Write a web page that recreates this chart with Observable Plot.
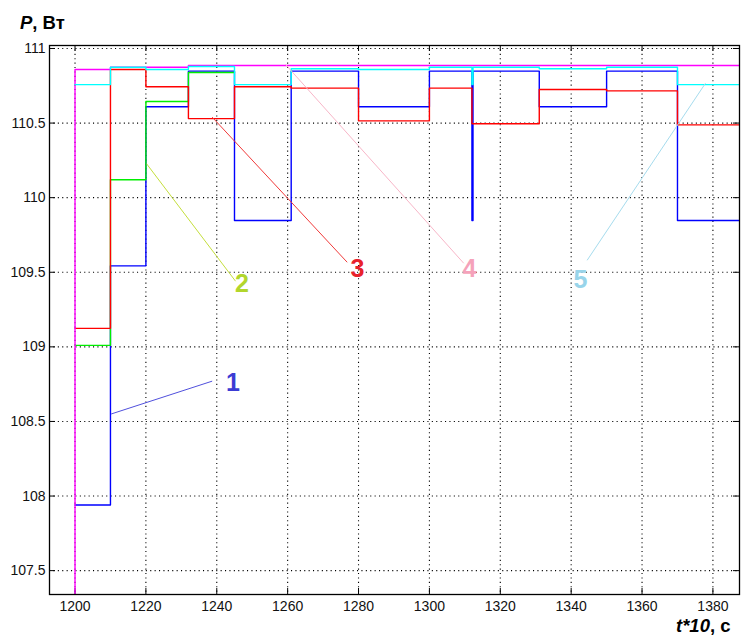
<!DOCTYPE html>
<html><head><meta charset="utf-8">
<script src="https://cdn.jsdelivr.net/npm/d3@7"></script>
<script src="https://cdn.jsdelivr.net/npm/@observablehq/plot@0.6"></script>
<style>body{margin:0;background:#fff}</style>
</head><body><div id="chart"></div>
<script>
// switching times (t*10, s)
const t = [1200, 1200, 1210, 1220, 1232, 1245, 1261, 1280, 1300, 1312, 1312.3, 1331, 1350, 1370, 1387.5];
// power, W (step values starting at each time)
const p1 = [107.94, 107.94, 109.543, 110.609, 110.848, 109.847, 110.848, 110.609, 110.848, 109.847, 110.848, 110.609, 110.848, 109.847, 109.847];
const p2 = [109.01, 109.01, 110.12, 110.645, 110.839, 110.839, null, null, null, null, null, null, null, null, null];
const p3 = [109.124, 109.124, 110.859, 110.743, 110.53, 110.743, 110.734, 110.515, 110.734, 110.495, 110.495, 110.725, 110.716, 110.488, 110.488];
const p4 = [107.2, 110.859, 110.874, 110.874, 110.886, 110.886, 110.886, 110.886, 110.886, 110.886, 110.886, 110.886, 110.886, 110.886, 110.886];
const p5 = [110.758, 110.758, 110.874, 110.859, 110.879, 110.758, 110.864, 110.859, 110.874, 110.758, 110.874, 110.864, 110.874, 110.758, 110.758];

const seriesNames = ["1", "2", "3", "4", "5"];
const seriesValues = [p1, p2, p3, p4, p5];
const seriesColors = ["#0000ff", "#00ee00", "#ff0000", "#ff00ff", "#00ffff"];
const drawOrder = [0, 1, 2, 3, 4];

// number labels with leader lines
const labelText = ["1", "2", "3", "4", "5"];
const labelColors = ["#3c3cd4", "#b2d62c", "#e8222c", "#f5a2ba", "#98d4ea"];
const leaderColors = ["#5050dd", "#c4de3c", "#f03a3a", "#f8b6c8", "#a6dcee"];
const labelX = [1244.6, 1247.1, 1279.7, 1311.3, 1342.6];
const labelY = [108.76, 109.42, 109.525, 109.525, 109.45];
const leadX1 = [1210.2, 1220.2, 1238.7, 1259.4, 1344.5];
const leadY1 = [108.55, 110.227, 110.54, 110.893, 109.58];
const leadX2 = [1238.7, 1245.3, 1276.8, 1309.7, 1377.9];
const leadY2 = [108.77, 109.44, 109.567, 109.56, 110.767];

const xTicks = [1200, 1220, 1240, 1260, 1280, 1300, 1320, 1340, 1360, 1380];
const yTicks = [107.5, 108, 108.5, 109, 109.5, 110, 110.5, 111];
const xDomain = [1192.8, 1387.5];
const yDomain = [107.34, 111.02];

const W = 747, H = 636, mL = 49, mR = 8, mT = 45, mB = 42;
const pw = W - mL - mR, ph = H - mT - mB;

const rows = [];
drawOrder.forEach(s => {
  t.forEach((tt, i) => rows.push({series: seriesNames[s], order: s, t: tt, p: seriesValues[s][i]}));
});
const labels = labelText.map((s, i) => ({s, x: labelX[i], y: labelY[i], x1: leadX1[i], y1: leadY1[i], x2: leadX2[i], y2: leadY2[i], c: labelColors[i], lc: leaderColors[i]}));

const lineMarks = drawOrder.map(s =>
  Plot.line(rows.filter(r => r.order === s), {
    x: "t", y: "p", curve: "step-after", stroke: seriesColors[s], strokeWidth: 1.4, clip: true
  })
);

const chart = Plot.plot({
  width: W, height: H,
  marginLeft: mL, marginRight: mR, marginTop: mT, marginBottom: mB,
  style: {fontFamily: "'Liberation Sans', Arial, sans-serif", fontSize: "14px", color: "#000", background: "#fff"},
  x: {domain: xDomain},
  y: {domain: yDomain},
  marks: [
    Plot.gridX(xTicks, {stroke: "#000", strokeOpacity: 1, strokeWidth: 1.1, strokeDasharray: "1.1,3.3"}),
    Plot.gridY(yTicks, {stroke: "#000", strokeOpacity: 1, strokeWidth: 1.1, strokeDasharray: "1.1,3.3"}),
    Plot.tickX(xTicks, {x: d => d, insetTop: ph - 6, stroke: "#000"}),
    Plot.tickX(xTicks, {x: d => d, insetBottom: ph - 6, stroke: "#000"}),
    Plot.tickY(yTicks, {y: d => d, insetRight: pw - 6, stroke: "#000"}),
    Plot.tickY(yTicks, {y: d => d, insetLeft: pw - 6, stroke: "#000"}),
    Plot.axisX(xTicks, {tickSize: 0, tickPadding: 7, label: null, tickFormat: d => String(d), fill: "#111"}),
    Plot.axisY(yTicks, {tickSize: 0, tickPadding: 4, label: null, tickFormat: d => String(d), fill: "#111"}),
    ...lineMarks,
    Plot.link(labels, {x1: "x1", y1: "y1", x2: "x2", y2: "y2", stroke: d => d.lc, strokeWidth: 1}),
    Plot.text(labels, {x: "x", y: "y", text: "s", fill: d => d.c, fontSize: 25, fontWeight: "bold"}),
    Plot.frame({stroke: "#000", strokeWidth: 1.3})
  ]
});

const svg = d3.select(chart);
const yl = svg.append("text").attr("x", 20).attr("y", 29).attr("text-anchor", "start")
  .attr("font-family", "'Liberation Sans', Arial, sans-serif").attr("font-size", 18.5).attr("font-weight", "bold").attr("fill", "#000");
yl.append("tspan").attr("font-style", "italic").text("P");
yl.append("tspan").text(", Вт");
const xl = svg.append("text").attr("x", 676).attr("y", 632).attr("text-anchor", "start")
  .attr("font-family", "'Liberation Sans', Arial, sans-serif").attr("font-size", 18.5).attr("font-weight", "bold").attr("fill", "#000");
xl.append("tspan").attr("font-style", "italic").text("t*10");
xl.append("tspan").text(", с");

document.getElementById("chart").appendChild(chart);
</script>
</body></html>
